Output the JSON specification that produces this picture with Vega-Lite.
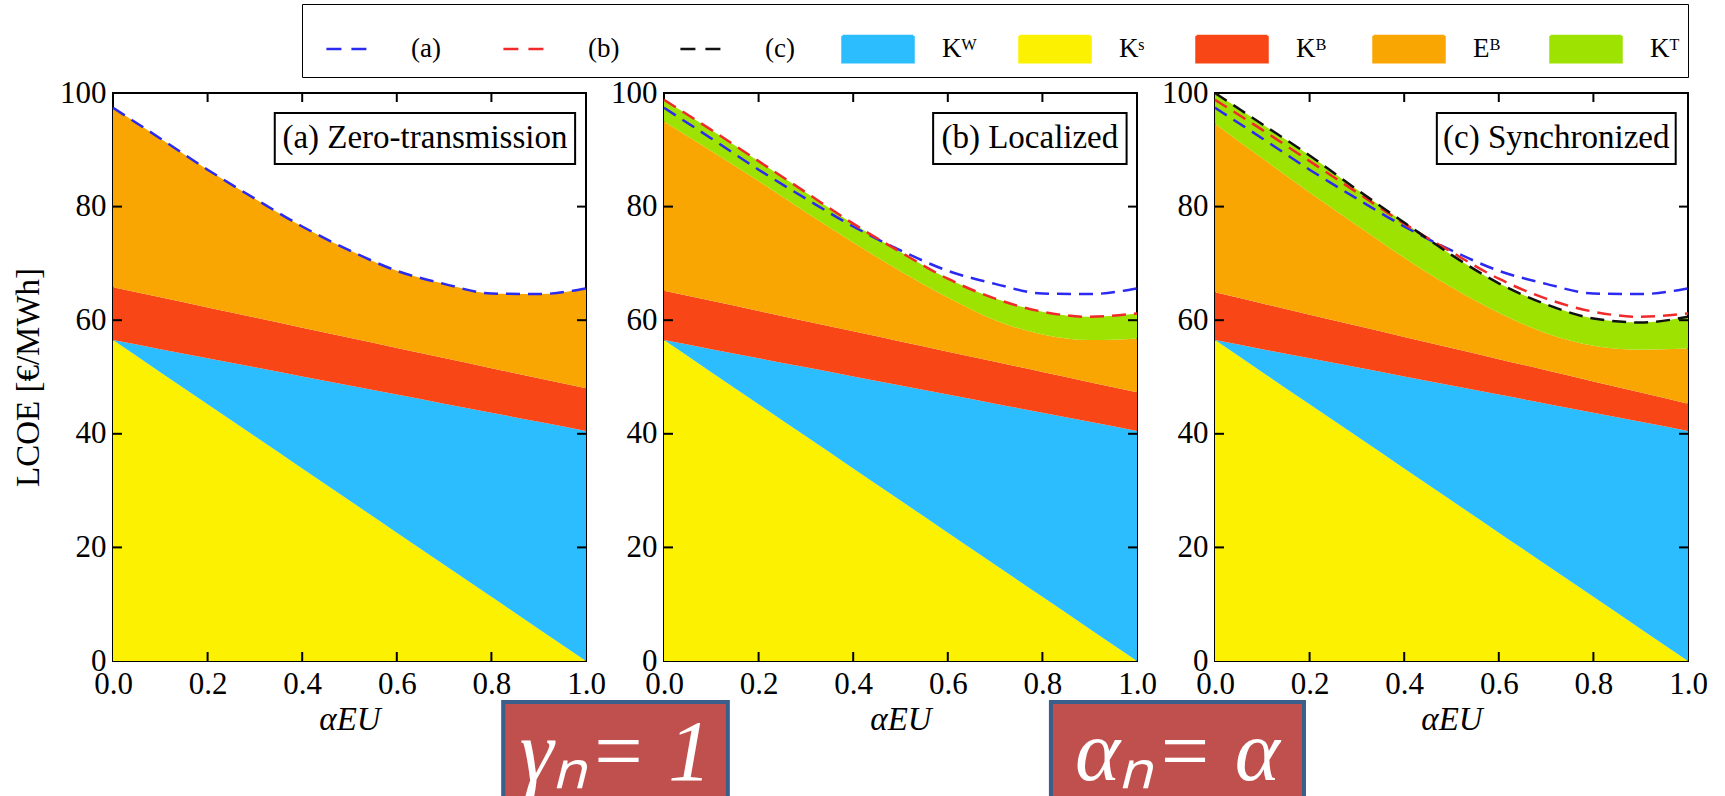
{
  "$schema": "https://vega.github.io/schema/vega-lite/v6.json",
  "padding": {"left": 11, "top": 3, "right": 0, "bottom": -5},
  "autosize": {"type": "pad"},
  "bounds": "flush",
  "spacing": 78,
  "datasets": {
    "xt": [{"v": 0.2}, {"v": 0.4}, {"v": 0.6}, {"v": 0.8}],
    "yt": [{"v": 20}, {"v": 40}, {"v": 60}, {"v": 80}],
    "d": [
      {"p":"a","x":0.0,"c1KS":56.5,"c2KW":0,"c3KB":9.3,"c4EB":31.6,"c5KT":0,"La":97.4,"Lb":null,"Lc":null},
      {"p":"a","x":0.1,"c1KS":50.85,"c2KW":4.05,"c3KB":9.12,"c4EB":27.98,"c5KT":0,"La":92.0,"Lb":null,"Lc":null},
      {"p":"a","x":0.2,"c1KS":45.2,"c2KW":8.1,"c3KB":8.94,"c4EB":24.26,"c5KT":0,"La":86.5,"Lb":null,"Lc":null},
      {"p":"a","x":0.3,"c1KS":39.55,"c2KW":12.15,"c3KB":8.76,"c4EB":20.94,"c5KT":0,"La":81.4,"Lb":null,"Lc":null},
      {"p":"a","x":0.4,"c1KS":33.9,"c2KW":16.2,"c3KB":8.58,"c4EB":17.82,"c5KT":0,"La":76.5,"Lb":null,"Lc":null},
      {"p":"a","x":0.5,"c1KS":28.25,"c2KW":20.25,"c3KB":8.4,"c4EB":15.4,"c5KT":0,"La":72.3,"Lb":null,"Lc":null},
      {"p":"a","x":0.6,"c1KS":22.6,"c2KW":24.3,"c3KB":8.22,"c4EB":13.58,"c5KT":0,"La":68.7,"Lb":null,"Lc":null},
      {"p":"a","x":0.7,"c1KS":16.95,"c2KW":28.35,"c3KB":8.04,"c4EB":13.06,"c5KT":0,"La":66.4,"Lb":null,"Lc":null},
      {"p":"a","x":0.8,"c1KS":11.3,"c2KW":32.4,"c3KB":7.86,"c4EB":13.14,"c5KT":0,"La":64.7,"Lb":null,"Lc":null},
      {"p":"a","x":0.9,"c1KS":5.65,"c2KW":36.45,"c3KB":7.68,"c4EB":14.82,"c5KT":0,"La":64.6,"Lb":null,"Lc":null},
      {"p":"a","x":1.0,"c1KS":0,"c2KW":40.5,"c3KB":7.5,"c4EB":17.6,"c5KT":0,"La":65.6,"Lb":null,"Lc":null},
      {"p":"b","x":0.0,"c1KS":56.5,"c2KW":0,"c3KB":8.7,"c4EB":29.8,"c5KT":3.8,"La":97.4,"Lb":98.8,"Lc":null},
      {"p":"b","x":0.1,"c1KS":50.85,"c2KW":4.05,"c3KB":8.51,"c4EB":26.39,"c5KT":3.7,"La":92.0,"Lb":93.5,"Lc":null},
      {"p":"b","x":0.2,"c1KS":45.2,"c2KW":8.1,"c3KB":8.32,"c4EB":22.88,"c5KT":3.5,"La":86.5,"Lb":88.0,"Lc":null},
      {"p":"b","x":0.3,"c1KS":39.55,"c2KW":12.15,"c3KB":8.13,"c4EB":19.17,"c5KT":3.5,"La":81.4,"Lb":82.5,"Lc":null},
      {"p":"b","x":0.4,"c1KS":33.9,"c2KW":16.2,"c3KB":7.94,"c4EB":15.66,"c5KT":3.3,"La":76.5,"Lb":77.0,"Lc":null},
      {"p":"b","x":0.5,"c1KS":28.25,"c2KW":20.25,"c3KB":7.75,"c4EB":12.35,"c5KT":3.4,"La":72.3,"Lb":72.0,"Lc":null},
      {"p":"b","x":0.6,"c1KS":22.6,"c2KW":24.3,"c3KB":7.56,"c4EB":9.54,"c5KT":3.3,"La":68.7,"Lb":67.3,"Lc":null},
      {"p":"b","x":0.7,"c1KS":16.95,"c2KW":28.35,"c3KB":7.37,"c4EB":7.33,"c5KT":3.8,"La":66.4,"Lb":63.8,"Lc":null},
      {"p":"b","x":0.8,"c1KS":11.3,"c2KW":32.4,"c3KB":7.18,"c4EB":6.62,"c5KT":4.0,"La":64.7,"Lb":61.5,"Lc":null},
      {"p":"b","x":0.9,"c1KS":5.65,"c2KW":36.45,"c3KB":6.99,"c4EB":7.41,"c5KT":4.1,"La":64.6,"Lb":60.6,"Lc":null},
      {"p":"b","x":1.0,"c1KS":0,"c2KW":40.5,"c3KB":6.8,"c4EB":9.5,"c5KT":4.4,"La":65.6,"Lb":61.2,"Lc":null},
      {"p":"c","x":0.0,"c1KS":56.5,"c2KW":0,"c3KB":8.4,"c4EB":29.7,"c5KT":5.4,"La":97.4,"Lb":98.8,"Lc":100.0},
      {"p":"c","x":0.1,"c1KS":50.85,"c2KW":4.05,"c3KB":8.04,"c4EB":25.56,"c5KT":6.0,"La":92.0,"Lb":93.5,"Lc":94.5},
      {"p":"c","x":0.2,"c1KS":45.2,"c2KW":8.1,"c3KB":7.68,"c4EB":21.52,"c5KT":6.5,"La":86.5,"Lb":88.0,"Lc":89.0},
      {"p":"c","x":0.3,"c1KS":39.55,"c2KW":12.15,"c3KB":7.32,"c4EB":17.68,"c5KT":6.3,"La":81.4,"Lb":82.5,"Lc":83.0},
      {"p":"c","x":0.4,"c1KS":33.9,"c2KW":16.2,"c3KB":6.96,"c4EB":13.94,"c5KT":6.2,"La":76.5,"Lb":77.0,"Lc":77.2},
      {"p":"c","x":0.5,"c1KS":28.25,"c2KW":20.25,"c3KB":6.6,"c4EB":10.7,"c5KT":5.7,"La":72.3,"Lb":72.0,"Lc":71.5},
      {"p":"c","x":0.6,"c1KS":22.6,"c2KW":24.3,"c3KB":6.24,"c4EB":8.16,"c5KT":5.2,"La":68.7,"Lb":67.3,"Lc":66.5},
      {"p":"c","x":0.7,"c1KS":16.95,"c2KW":28.35,"c3KB":5.88,"c4EB":6.52,"c5KT":5.1,"La":66.4,"Lb":63.8,"Lc":62.8},
      {"p":"c","x":0.8,"c1KS":11.3,"c2KW":32.4,"c3KB":5.52,"c4EB":6.28,"c5KT":4.8,"La":64.7,"Lb":61.5,"Lc":60.3},
      {"p":"c","x":0.9,"c1KS":5.65,"c2KW":36.45,"c3KB":5.16,"c4EB":7.54,"c5KT":4.8,"La":64.6,"Lb":60.6,"Lc":59.6},
      {"p":"c","x":1.0,"c1KS":0,"c2KW":40.5,"c3KB":4.8,"c4EB":9.7,"c5KT":5.6,"La":65.6,"Lb":61.2,"Lc":60.6}
    ]
  },
  "config": {
    "view": {"stroke": "black", "strokeWidth": 2},
    "font": "Liberation Serif",
    "axis": {
      "grid": false, "domain": false, "ticks": false,
      "labelFont": "Liberation Serif", "labelFontSize": 31, "labelColor": "black",
      "titleFont": "Liberation Serif", "titleFontSize": 33, "titleFontWeight": "normal", "titleColor": "black",
      "labelFlush": false, "labelOverlap": false
    }
  },
  "hconcat": [
    {
      "width": 473, "height": 568,
      "resolve": {"axis": {"x": "independent", "y": "independent"}},
      "layer": [
        {
          "data": {"name": "d"},
          "transform": [{"filter": "datum.p == 'a'"}, {"fold": ["c1KS","c2KW","c3KB","c4EB","c5KT"], "as": ["k","v"]}],
          "mark": {"type": "area", "interpolate": "monotone", "opacity": 1},
          "encoding": {
            "x": {"field": "x", "type": "quantitative", "scale": {"domain": [0,1], "nice": false}, "axis": {"orient": "bottom", "values": [0,0.2,0.4,0.6,0.8,1], "format": ".1f", "labelPadding": 8, "title": "αEU", "titleFontStyle": "italic", "titlePadding": 4}},
            "y": {"field": "v", "type": "quantitative", "stack": "zero", "scale": {"domain": [0,100], "nice": false}, "axis": {"orient": "left", "values": [0,20,40,60,80,100], "format": "d", "labelPadding": 7, "title": "LCOE [€/MWh]", "titlePadding": 14}},
            "color": {
              "field": "k", "type": "nominal",
              "scale": {"domain": ["La","Lb","Lc","c2KW","c1KS","c3KB","c4EB","c5KT"], "range": ["#2a2af0","#f02a2a","#111111","#2bbdfd","#fbf100","#f94617","#f9a602","#9de200"]},
              "legend": {
                "orient": "none", "legendX": 189, "legendY": -89, "direction": "horizontal", "columns": 8,
                "title": null, "strokeColor": "black", "fillColor": "white", "padding": 8,
                "symbolSize": 5041, "symbolStrokeWidth": 2.5, "symbolOpacity": 1,
                "labelFont": "Liberation Serif", "labelFontSize": 27, "labelColor": "black",
                "labelOffset": 27, "columnPadding": 37, "gridAlign": "all", "labelLimit": 200,
                "labelExpr": "{'La':'(a)','Lb':'(b)','Lc':'(c)','c2KW':'Kᵂ','c1KS':'Kˢ','c3KB':'Kᴮ','c4EB':'Eᴮ','c5KT':'Kᵀ'}[datum.value]"
              }
            },
            "order": {"field": "k", "sort": "ascending"}
          }
        },
        {
          "data": {"values": []},
          "mark": {"type": "point", "filled": true, "opacity": 1, "strokeWidth": 2.5},
          "encoding": {
            "x": {"datum": 0.5, "type": "quantitative", "axis": null},
            "y": {"datum": 50, "type": "quantitative", "axis": null},
            "shape": {"field": "k", "type": "nominal", "scale": {"domain": ["La","Lb","Lc","c2KW","c1KS","c3KB","c4EB","c5KT"], "range": ["M-0.58,0H0.58M0,-0.42M0,0.42","M-0.58,0H0.58M0,-0.42M0,0.42","M-0.58,0H0.58M0,-0.42M0,0.42","M-1,-0.37H1V0.37H-1ZM0,-0.42M0,0.42","M-1,-0.37H1V0.37H-1ZM0,-0.42M0,0.42","M-1,-0.37H1V0.37H-1ZM0,-0.42M0,0.42","M-1,-0.37H1V0.37H-1ZM0,-0.42M0,0.42","M-1,-0.37H1V0.37H-1ZM0,-0.42M0,0.42"]}},
            "stroke": {"field": "k", "type": "nominal", "scale": {"domain": ["La","Lb","Lc","c2KW","c1KS","c3KB","c4EB","c5KT"], "range": ["#2a2af0","#f02a2a","#111111","transparent","transparent","transparent","transparent","transparent"]}},
            "strokeDash": {"field": "k", "type": "nominal", "scale": {"domain": ["La","Lb","Lc","c2KW","c1KS","c3KB","c4EB","c5KT"], "range": [[15,10],[15,10],[15,10],[1,0],[1,0],[1,0],[1,0],[1,0]]}}
          }
        },
        {
          "data": {"name": "d"},
          "transform": [{"filter": "datum.p == 'a'"}, {"fold": ["La","Lb","Lc"], "as": ["k","v"]}, {"filter": "datum.v != null"}],
          "mark": {"type": "line", "interpolate": "monotone", "strokeDash": [14,8], "strokeWidth": 2.5, "opacity": 1},
          "encoding": {
            "x": {"field": "x", "type": "quantitative", "axis": null},
            "y": {"field": "v", "type": "quantitative", "stack": null, "axis": null},
            "color": {"field": "k", "type": "nominal", "legend": null}
          }
        },
        {"data": {"name": "xt"}, "mark": {"type": "tick", "orient": "vertical", "size": 18, "thickness": 2, "color": "black", "opacity": 1, "clip": true},
         "encoding": {"x": {"field": "v", "type": "quantitative", "axis": null}, "y": {"datum": 100, "type": "quantitative", "axis": null}}},
        {"data": {"name": "xt"}, "mark": {"type": "tick", "orient": "vertical", "size": 18, "thickness": 2, "color": "black", "opacity": 1, "clip": true},
         "encoding": {"x": {"field": "v", "type": "quantitative", "axis": null}, "y": {"datum": 0, "type": "quantitative", "axis": null}}},
        {"data": {"name": "yt"}, "mark": {"type": "tick", "orient": "horizontal", "size": 18, "thickness": 2, "color": "black", "opacity": 1, "clip": true},
         "encoding": {"y": {"field": "v", "type": "quantitative", "axis": null}, "x": {"datum": 0, "type": "quantitative", "axis": null}}},
        {"data": {"name": "yt"}, "mark": {"type": "tick", "orient": "horizontal", "size": 18, "thickness": 2, "color": "black", "opacity": 1, "clip": true},
         "encoding": {"y": {"field": "v", "type": "quantitative", "axis": null}, "x": {"datum": 1, "type": "quantitative", "axis": null}}},
        {
          "data": {"values": [{}]},
          "mark": {"type": "rect", "fill": "white", "stroke": "black", "strokeWidth": 2},
          "encoding": {
            "x": {"datum": 0.342, "type": "quantitative", "axis": null}, "x2": {"datum": 0.977},
            "y": {"datum": 96.5, "type": "quantitative", "axis": null}, "y2": {"datum": 87.5}
          }
        },
        {
          "data": {"values": [{}]},
          "mark": {"type": "text", "font": "Liberation Serif", "fontSize": 33, "color": "black", "align": "center", "baseline": "middle"},
          "encoding": {
            "x": {"datum": 0.6595, "type": "quantitative", "axis": null},
            "y": {"datum": 92, "type": "quantitative", "axis": null},
            "text": {"value": "(a) Zero-transmission"}
          }
        }
      ]
    },
    {
      "width": 473, "height": 568,
      "resolve": {"axis": {"x": "independent", "y": "independent"}},
      "layer": [
        {
          "data": {"name": "d"},
          "transform": [{"filter": "datum.p == 'b'"}, {"fold": ["c1KS","c2KW","c3KB","c4EB","c5KT"], "as": ["k","v"]}],
          "mark": {"type": "area", "interpolate": "monotone", "opacity": 1},
          "encoding": {
            "x": {"field": "x", "type": "quantitative", "scale": {"domain": [0,1], "nice": false}, "axis": {"orient": "bottom", "values": [0,0.2,0.4,0.6,0.8,1], "format": ".1f", "labelPadding": 8, "title": "αEU", "titleFontStyle": "italic", "titlePadding": 4}},
            "y": {"field": "v", "type": "quantitative", "stack": "zero", "scale": {"domain": [0,100], "nice": false}, "axis": {"orient": "left", "values": [0,20,40,60,80,100], "format": "d", "labelPadding": 7, "title": null}},
            "color": {"field": "k", "type": "nominal", "legend": null},
            "order": {"field": "k", "sort": "ascending"}
          }
        },
        {
          "data": {"name": "d"},
          "transform": [{"filter": "datum.p == 'b'"}, {"fold": ["La","Lb","Lc"], "as": ["k","v"]}, {"filter": "datum.v != null"}],
          "mark": {"type": "line", "interpolate": "monotone", "strokeDash": [14,8], "strokeWidth": 2.5, "opacity": 1},
          "encoding": {
            "x": {"field": "x", "type": "quantitative", "axis": null},
            "y": {"field": "v", "type": "quantitative", "stack": null, "axis": null},
            "color": {"field": "k", "type": "nominal", "legend": null}
          }
        },
        {"data": {"name": "xt"}, "mark": {"type": "tick", "orient": "vertical", "size": 18, "thickness": 2, "color": "black", "opacity": 1, "clip": true},
         "encoding": {"x": {"field": "v", "type": "quantitative", "axis": null}, "y": {"datum": 100, "type": "quantitative", "axis": null}}},
        {"data": {"name": "xt"}, "mark": {"type": "tick", "orient": "vertical", "size": 18, "thickness": 2, "color": "black", "opacity": 1, "clip": true},
         "encoding": {"x": {"field": "v", "type": "quantitative", "axis": null}, "y": {"datum": 0, "type": "quantitative", "axis": null}}},
        {"data": {"name": "yt"}, "mark": {"type": "tick", "orient": "horizontal", "size": 18, "thickness": 2, "color": "black", "opacity": 1, "clip": true},
         "encoding": {"y": {"field": "v", "type": "quantitative", "axis": null}, "x": {"datum": 0, "type": "quantitative", "axis": null}}},
        {"data": {"name": "yt"}, "mark": {"type": "tick", "orient": "horizontal", "size": 18, "thickness": 2, "color": "black", "opacity": 1, "clip": true},
         "encoding": {"y": {"field": "v", "type": "quantitative", "axis": null}, "x": {"datum": 1, "type": "quantitative", "axis": null}}},
        {
          "data": {"values": [{}]},
          "mark": {"type": "rect", "fill": "white", "stroke": "black", "strokeWidth": 2},
          "encoding": {
            "x": {"datum": 0.569, "type": "quantitative", "axis": null}, "x2": {"datum": 0.978},
            "y": {"datum": 96.5, "type": "quantitative", "axis": null}, "y2": {"datum": 87.5}
          }
        },
        {
          "data": {"values": [{}]},
          "mark": {"type": "text", "font": "Liberation Serif", "fontSize": 33, "color": "black", "align": "center", "baseline": "middle"},
          "encoding": {
            "x": {"datum": 0.7735, "type": "quantitative", "axis": null},
            "y": {"datum": 92, "type": "quantitative", "axis": null},
            "text": {"value": "(b) Localized"}
          }
        },
        {
          "data": {"values": [{"x1": -0.34, "x2": 0.135}, {"x1": 0.818, "x2": 1.353}]},
          "mark": {"type": "rect", "fill": "#c0504d", "stroke": "#3a5f8b", "strokeWidth": 4},
          "encoding": {
            "x": {"field": "x1", "type": "quantitative", "axis": null}, "x2": {"field": "x2"},
            "y": {"datum": -7.2, "type": "quantitative", "axis": null}, "y2": {"datum": -24.3}
          }
        },
        {
          "data": {"values": [{"xc": -0.1025, "t": "γₙ= 1"}, {"xc": 1.0855, "t": "αₙ= α"}]},
          "mark": {"type": "text", "font": "Liberation Serif", "fontStyle": "italic", "fontSize": 86, "color": "white", "align": "center", "baseline": "alphabetic"},
          "encoding": {
            "x": {"field": "xc", "type": "quantitative", "axis": null},
            "y": {"datum": -21.0, "type": "quantitative", "axis": null},
            "text": {"field": "t"}
          }
        }
      ]
    },
    {
      "width": 473, "height": 568,
      "resolve": {"axis": {"x": "independent", "y": "independent"}},
      "layer": [
        {
          "data": {"name": "d"},
          "transform": [{"filter": "datum.p == 'c'"}, {"fold": ["c1KS","c2KW","c3KB","c4EB","c5KT"], "as": ["k","v"]}],
          "mark": {"type": "area", "interpolate": "monotone", "opacity": 1},
          "encoding": {
            "x": {"field": "x", "type": "quantitative", "scale": {"domain": [0,1], "nice": false}, "axis": {"orient": "bottom", "values": [0,0.2,0.4,0.6,0.8,1], "format": ".1f", "labelPadding": 8, "title": "αEU", "titleFontStyle": "italic", "titlePadding": 4}},
            "y": {"field": "v", "type": "quantitative", "stack": "zero", "scale": {"domain": [0,100], "nice": false}, "axis": {"orient": "left", "values": [0,20,40,60,80,100], "format": "d", "labelPadding": 7, "title": null}},
            "color": {"field": "k", "type": "nominal", "legend": null},
            "order": {"field": "k", "sort": "ascending"}
          }
        },
        {
          "data": {"name": "d"},
          "transform": [{"filter": "datum.p == 'c'"}, {"fold": ["La","Lb","Lc"], "as": ["k","v"]}, {"filter": "datum.v != null"}],
          "mark": {"type": "line", "interpolate": "monotone", "strokeDash": [14,8], "strokeWidth": 2.5, "opacity": 1},
          "encoding": {
            "x": {"field": "x", "type": "quantitative", "axis": null},
            "y": {"field": "v", "type": "quantitative", "stack": null, "axis": null},
            "color": {"field": "k", "type": "nominal", "legend": null}
          }
        },
        {"data": {"name": "xt"}, "mark": {"type": "tick", "orient": "vertical", "size": 18, "thickness": 2, "color": "black", "opacity": 1, "clip": true},
         "encoding": {"x": {"field": "v", "type": "quantitative", "axis": null}, "y": {"datum": 100, "type": "quantitative", "axis": null}}},
        {"data": {"name": "xt"}, "mark": {"type": "tick", "orient": "vertical", "size": 18, "thickness": 2, "color": "black", "opacity": 1, "clip": true},
         "encoding": {"x": {"field": "v", "type": "quantitative", "axis": null}, "y": {"datum": 0, "type": "quantitative", "axis": null}}},
        {"data": {"name": "yt"}, "mark": {"type": "tick", "orient": "horizontal", "size": 18, "thickness": 2, "color": "black", "opacity": 1, "clip": true},
         "encoding": {"y": {"field": "v", "type": "quantitative", "axis": null}, "x": {"datum": 0, "type": "quantitative", "axis": null}}},
        {"data": {"name": "yt"}, "mark": {"type": "tick", "orient": "horizontal", "size": 18, "thickness": 2, "color": "black", "opacity": 1, "clip": true},
         "encoding": {"y": {"field": "v", "type": "quantitative", "axis": null}, "x": {"datum": 1, "type": "quantitative", "axis": null}}},
        {
          "data": {"values": [{}]},
          "mark": {"type": "rect", "fill": "white", "stroke": "black", "strokeWidth": 2},
          "encoding": {
            "x": {"datum": 0.469, "type": "quantitative", "axis": null}, "x2": {"datum": 0.974},
            "y": {"datum": 96.5, "type": "quantitative", "axis": null}, "y2": {"datum": 87.5}
          }
        },
        {
          "data": {"values": [{}]},
          "mark": {"type": "text", "font": "Liberation Serif", "fontSize": 33, "color": "black", "align": "center", "baseline": "middle"},
          "encoding": {
            "x": {"datum": 0.7215, "type": "quantitative", "axis": null},
            "y": {"datum": 92, "type": "quantitative", "axis": null},
            "text": {"value": "(c) Synchronized"}
          }
        }
      ]
    }
  ]
}
